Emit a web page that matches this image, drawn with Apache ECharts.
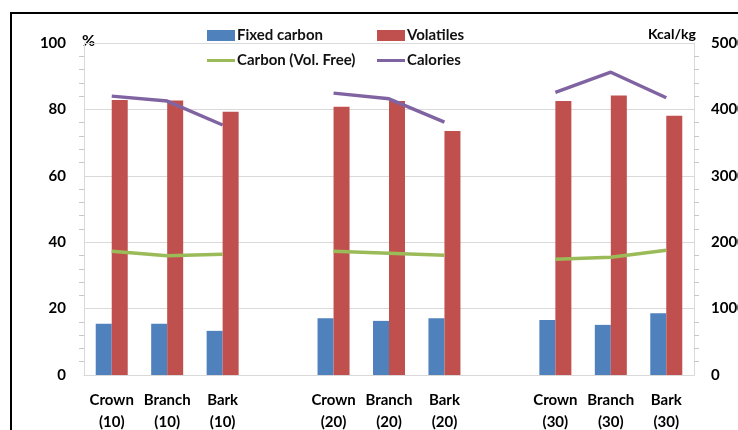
<!DOCTYPE html>
<html>
<head>
<meta charset="utf-8">
<script src="https://cdn.jsdelivr.net/npm/echarts@6/dist/echarts.min.js"></script>
<style>
html,body{margin:0;padding:0;background:#fff;}
#chart{width:738px;height:430px;}
</style>
</head>
<body>
<div id="chart"></div>
<script>
// Categories (empty strings are the gaps between groups)
const categories = ['Crown\n(10)','Branch\n(10)','Bark\n(10)','','Crown\n(20)','Branch\n(20)','Bark\n(20)','','Crown\n(30)','Branch\n(30)','Bark\n(30)'];
// Series values (%)
const fixedCarbon = [15.4, 15.4, 13.3, null, 17.1, 16.3, 17.1, null, 16.6, 15.1, 18.6];
const volatiles   = [82.8, 82.7, 79.3, null, 80.8, 82.5, 73.5, null, 82.5, 84.2, 78.1];
const carbonVolFree = [37.3, 35.9, 36.4, null, 37.3, 36.7, 36.1, null, 34.9, 35.5, 37.6];
// Calories (Kcal/kg, right axis)
const calories = [4200, 4125, 3765, null, 4245, 4160, 3810, null, 4255, 4560, 4175];
// Axis settings
const leftMax = 100, leftInterval = 20;
const rightMax = 5000, rightInterval = 1000;

const FONT = 'Lato';
const chart = echarts.init(document.getElementById('chart'), null, {renderer:'canvas'});

const legendText = {fontFamily: FONT, fontSize: 15, fontWeight: 'bold', color: '#111'};
function mkLegend(name, left, top, color, isLine){
  return {
    data: [{name: name, icon: 'rect', itemStyle: {color: color}}],
    left: left, top: top,
    itemWidth: 28, itemHeight: isLine ? 3 : 11, itemGap: 0,
    padding: 0,
    textStyle: Object.assign({padding:[0,0,0,-3]}, legendText),
    selectedMode: false
  };
}

chart.setOption({
  animation: false,
  textStyle: {fontFamily: FONT},
  grid: {left: 84, right: 44, top: 43, bottom: 55, containLabel: false, outerBoundsMode: 'none'},
  legend: [
    mkLegend('Fixed carbon', 207, 28, '#4F81BD', false),
    mkLegend('Volatiles', 377, 28, '#C0504D', false),
    mkLegend('Carbon (Vol. Free)', 207, 53, '#9BBB59', true),
    mkLegend('Calories', 377, 53, '#8064A2', true)
  ],
  graphic: [
    {type:'rect', shape:{x:11, y:13, width:900, height:600}, style:{fill:'none', stroke:'#000', lineWidth:2}, silent:true},
    {type:'text', left: 82, top: 33, style:{text:'%', fontFamily: FONT, fontSize: 16, fontWeight:'bold', fill:'#000'}},
    {type:'text', left: 648, top: 27, style:{text:'Kcal/kg', fontFamily: FONT, fontSize: 14, fontWeight:'bold', fill:'#000'}}
  ],
  xAxis: {
    type: 'category',
    data: categories,
    axisLine: {show: true, lineStyle: {color: '#d9d9d9', width: 1}},
    axisTick: {show: false},
    axisLabel: {interval: 0, margin: 14, fontFamily: FONT, fontSize: 15, fontWeight: 'bold', color: '#000', lineHeight: 22}
  },
  yAxis: [
    {
      type: 'value', min: 0, max: leftMax, interval: leftInterval,
      axisLine: {show: true, lineStyle: {color: '#d9d9d9'}},
      axisTick: {show: false},
      minorTick: {show: true, splitNumber: 5, length: 5, lineStyle: {color: '#c8c8c8'}},
      axisLabel: {margin: 18, fontFamily: FONT, fontSize: 15, fontWeight: 'bold', color: '#000'},
      splitLine: {show: true, lineStyle: {color: '#d9d9d9'}}
    },
    {
      type: 'value', min: 0, max: rightMax, interval: rightInterval, position: 'right',
      axisLine: {show: true, lineStyle: {color: '#d9d9d9'}},
      axisTick: {show: false},
      minorTick: {show: true, splitNumber: 5, length: 5, lineStyle: {color: '#c8c8c8'}},
      axisLabel: {margin: 17, fontFamily: FONT, fontSize: 15, fontWeight: 'bold', color: '#000',
        formatter: function(v){ return String(v); }},
      splitLine: {show: false}
    }
  ],
  series: [
    {name: 'Fixed carbon', type: 'bar', data: fixedCarbon, barWidth: 16, barGap: '0%', itemStyle: {color: '#4F81BD'}},
    {name: 'Volatiles', type: 'bar', data: volatiles, barWidth: 16, barGap: '0%', itemStyle: {color: '#C0504D'}},
    {name: 'Carbon (Vol. Free)', type: 'line', data: carbonVolFree, symbol: 'none', showSymbol: false,
      lineStyle: {color: '#9BBB59', width: 3.5}, itemStyle: {color: '#9BBB59'}, connectNulls: false, z: 5},
    {name: 'Calories', type: 'line', yAxisIndex: 1, data: calories, symbol: 'none', showSymbol: false,
      lineStyle: {color: '#8064A2', width: 3.5}, itemStyle: {color: '#8064A2'}, connectNulls: false, z: 5}
  ]
});
</script>
</body>
</html>
